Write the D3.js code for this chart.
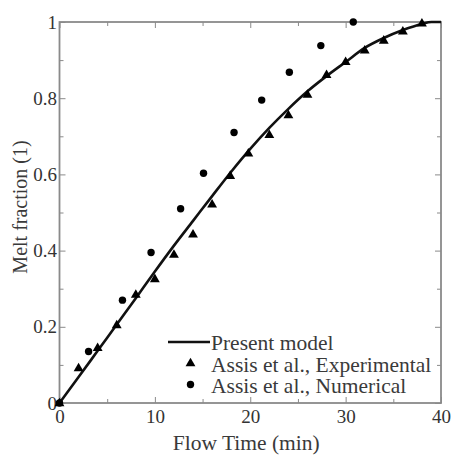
<!DOCTYPE html>
<html>
<head>
<meta charset="utf-8">
<script src="https://cdn.jsdelivr.net/npm/d3@7"></script>
<style>
  body { margin: 0; background: #fff; }
  svg text { font-family: "Liberation Serif", "DejaVu Serif", serif; }
  .axis path, .axis line { stroke: #8a8a8a; }
  .axis text { fill: #333; font-size: 19px; }
</style>
</head>
<body>
<svg width="452" height="456"></svg>
<script>
// Present model (line)
const modelTime = [0, 2, 4, 6, 8, 10, 12, 14, 16, 18, 20, 22, 24, 26, 28, 30, 32, 34, 36, 38, 39, 40];
const modelFrac = [0, 0.068, 0.137, 0.206, 0.275, 0.345, 0.413, 0.478, 0.543, 0.607, 0.667, 0.722, 0.772, 0.818, 0.858, 0.895, 0.932, 0.958, 0.979, 0.995, 1.0, 1.0];

// Assis et al., Experimental (triangles)
const expTime = [0, 2, 4, 6, 8, 10, 12, 14, 16, 17.9, 19.8, 22, 24, 26, 28, 30, 32, 34, 36, 38];
const expFrac = [0, 0.092, 0.145, 0.205, 0.285, 0.326, 0.39, 0.443, 0.522, 0.597, 0.656, 0.704, 0.756, 0.81, 0.862, 0.896, 0.926, 0.952, 0.976, 0.997];

// Assis et al., Numerical (circles)
const numTime = [0, 3.05, 6.6, 9.6, 12.7, 15.1, 18.3, 21.2, 24.1, 27.4, 30.8];
const numFrac = [0, 0.135, 0.27, 0.395, 0.51, 0.603, 0.71, 0.795, 0.868, 0.938, 1.0];

const xMajor = [0, 10, 20, 30, 40];
const xMinor = [5, 15, 25, 35];
const yMajor = [0, 0.2, 0.4, 0.6, 0.8, 1];
const yMinor = [0.1, 0.3, 0.5, 0.7, 0.9];

const legendLabels = ["Present model", "Assis et al., Experimental", "Assis et al., Numerical"];

const svg = d3.select("svg"),
      margin = {top: 22, right: 11, bottom: 53, left: 59.5},
      width = +svg.attr("width") - margin.left - margin.right,
      height = +svg.attr("height") - margin.top - margin.bottom,
      g = svg.append("g").attr("transform", `translate(${margin.left},${margin.top})`);

const x = d3.scaleLinear().domain([0, 40]).range([0, width]);
const y = d3.scaleLinear().domain([0, 1]).range([height, 0]);
const yFmt = d => d === 0 || d === 1 ? d3.format("d")(d) : d3.format(".1f")(d);

// frame
g.append("rect")
  .attr("width", width).attr("height", height)
  .attr("fill", "none").attr("stroke", "#8a8a8a").attr("stroke-width", 1.8);

// axes: ticks point inward, labels only bottom + left
function axis(gen, values, size, tx, ty, labels) {
  const a = gen.tickValues(values).tickSizeInner(-size).tickSizeOuter(0);
  if (!labels) a.tickFormat("");
  g.append("g").attr("class", "axis")
    .attr("transform", `translate(${tx},${ty})`)
    .attr("font-family", null)
    .call(a)
    .call(s => s.select(".domain").remove());
}
axis(d3.axisBottom(x).tickPadding(7).tickFormat(d3.format("d")), xMajor, 6, 0, height, true);
axis(d3.axisBottom(x), xMinor, 4, 0, height, false);
axis(d3.axisLeft(y).tickPadding(2.5).tickFormat(yFmt), yMajor, 6, 0, 0, true);
axis(d3.axisLeft(y), yMinor, 4, 0, 0, false);
axis(d3.axisTop(x), xMajor, 6, 0, 0, false);
axis(d3.axisTop(x), xMinor, 4, 0, 0, false);
axis(d3.axisRight(y), yMajor, 6, width, 0, false);
axis(d3.axisRight(y), yMinor, 4, width, 0, false);

// axis titles
g.append("text")
  .attr("x", width / 2 - 4).attr("y", height + 47)
  .attr("text-anchor", "middle")
  .style("font-size", "21.5px").attr("fill", "#3a3a3a")
  .text("Flow Time (min)");
g.append("text")
  .attr("transform", "rotate(-90)")
  .attr("x", -185).attr("y", -33)
  .attr("text-anchor", "middle")
  .style("font-size", "20px").attr("fill", "#3a3a3a")
  .text("Melt fraction (1)");

// model line
const model = modelTime.map((t, i) => ({t, f: modelFrac[i]}));
const line = d3.line().x(d => x(d.t)).y(d => y(d.f)).curve(d3.curveMonotoneX);
g.append("path")
  .datum(model)
  .attr("fill", "none")
  .attr("stroke", "#111")
  .attr("stroke-width", 2.6)
  .attr("d", line);

// markers
const tri = d3.symbol().type(d3.symbolTriangle).size(42);
g.selectAll(".exp")
  .data(expTime.map((t, i) => ({t, f: expFrac[i]})))
  .enter().append("path")
  .attr("class", "exp")
  .attr("transform", d => `translate(${x(d.t)},${y(d.f) + 0.5})`)
  .attr("d", tri)
  .attr("fill", "#000");

g.selectAll(".num")
  .data(numTime.map((t, i) => ({t, f: numFrac[i]})))
  .enter().append("circle")
  .attr("class", "num")
  .attr("cx", d => x(d.t))
  .attr("cy", d => y(d.f))
  .attr("r", 3.7)
  .attr("fill", "#000");

// legend
const lg = svg.append("g").attr("transform", "translate(168,342)");
lg.append("line")
  .attr("x1", 0).attr("x2", 42).attr("y1", 0).attr("y2", 0)
  .attr("stroke", "#111").attr("stroke-width", 2.6);
lg.append("path")
  .attr("transform", "translate(22.5,21.5)")
  .attr("d", tri).attr("fill", "#000");
lg.append("circle")
  .attr("cx", 22.5).attr("cy", 42.5).attr("r", 3.7).attr("fill", "#000");
lg.selectAll(".lt")
  .data(legendLabels)
  .enter().append("text")
  .attr("class", "lt")
  .attr("x", 43)
  .attr("y", (d, i) => 8 + i * 21.5)
  .style("font-size", "21.5px")
  .attr("fill", "#3a3a3a")
  .text(d => d);
</script>
</body>
</html>
